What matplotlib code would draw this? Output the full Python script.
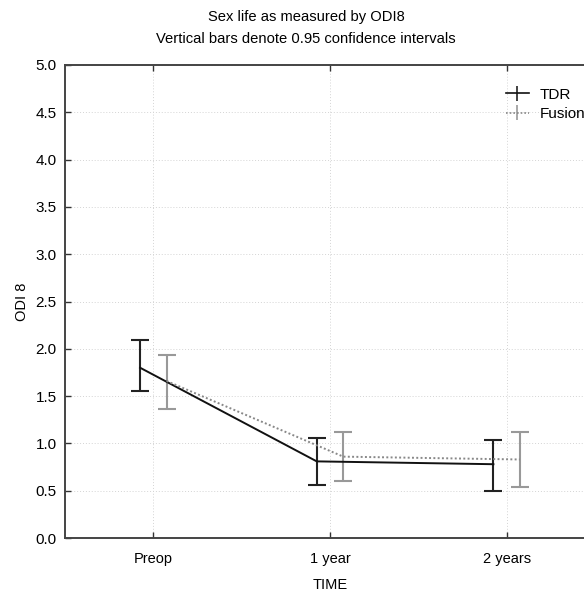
import numpy as np
import matplotlib
matplotlib.use("Agg")
import matplotlib.pyplot as plt

plt.rcParams['font.family'] = ['Liberation Sans', 'DejaVu Sans']

# data
time_labels = ["Preop", "1 year", "2 years"]
tdr_mean = [1.80, 0.81, 0.78]
tdr_low = [1.55, 0.565, 0.495]
tdr_high = [2.09, 1.06, 1.04]
fusion_mean = [1.66, 0.86, 0.83]
fusion_low = [1.36, 0.60, 0.54]
fusion_high = [1.93, 1.12, 1.12]

W, H = 584, 592
fig = plt.figure(figsize=(W / 100, H / 100), dpi=100)
# axes runs a bit past the right edge, as in the original crop
ax = fig.add_axes([65 / W, (H - 538) / H, (595 - 65) / W, (538 - 65) / H])

x = np.arange(len(time_labels))
off = 0.075

def draw(xs, mean, low, high, line_color, bar_color, ls, label):
    mean = np.array(mean)
    yerr = [mean - np.array(low), np.array(high) - mean]
    ax.plot(xs, mean, color=line_color, ls=ls, lw=1.4, zorder=3)
    ax.errorbar(xs, mean, yerr=yerr, fmt='none', ecolor=bar_color,
                elinewidth=1.5, capsize=6.5, capthick=1.5, zorder=2)
    return ax.errorbar([], [], yerr=[], color=line_color, ls=ls, lw=1.2,
                       ecolor=bar_color, elinewidth=1.2, capsize=4, label=label)

h1 = draw(x - off, tdr_mean, tdr_low, tdr_high, '#111111', '#222222', '-', 'TDR')
h2 = draw(x + off, fusion_mean, fusion_low, fusion_high, '#888888', '#999999', (0, (1, 1.2)), 'Fusion')

ax.set_xlim(-0.5, 2.5)
ax.set_ylim(0, 5)
ax.set_xticks(x)
ax.set_xticklabels(time_labels, fontsize=10.5)
ax.set_yticks(np.arange(0, 5.01, 0.5))
ax.set_yticklabels([f"{v:.1f}" for v in np.arange(0, 5.01, 0.5)], fontsize=11)
ax.tick_params(direction='in', length=4, width=1, colors='#333333', labelcolor='black',
               top=True, right=True)
ax.tick_params(axis='x', pad=10)
ax.tick_params(axis='y', pad=6)
ax.grid(True, color='#d4d4d4', ls=(0, (1, 2)), lw=0.7)
for s in ax.spines.values():
    s.set_color('#444444')
    s.set_linewidth(1.4)

ax.set_xlabel("TIME", fontsize=10.5, labelpad=9)
ax.set_ylabel("ODI 8", fontsize=10.5, labelpad=5)

fig.text(306 / W, 1 - 28 / H,
         "Sex life as measured by ODI8\nVertical bars denote 0.95 confidence intervals",
         ha='center', va='center', fontsize=10.6, linespacing=1.65)

ax.legend(handles=[h1, h2], loc='upper left', bbox_to_anchor=(0.82, 0.965),
          frameon=False, fontsize=11, handlelength=1.5, handletextpad=0.7,
          borderaxespad=0, labelspacing=0.35)

fig.savefig("out.png", dpi=100)
